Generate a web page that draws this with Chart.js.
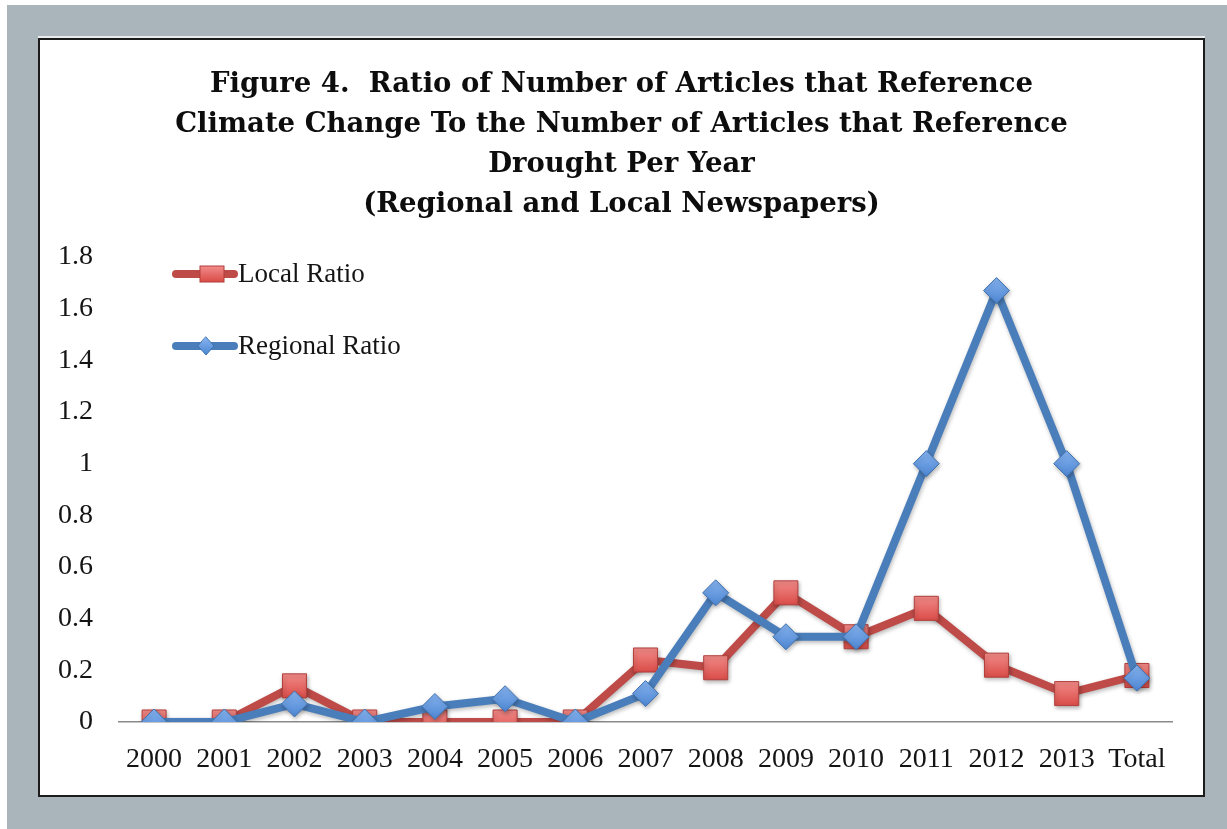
<!DOCTYPE html>
<html>
<head>
<meta charset="utf-8">
<title>Ratio of Climate Change to Drought Articles</title>
<script src="https://cdn.jsdelivr.net/npm/chart.js@4.4.0/dist/chart.umd.min.js"></script>
<style>
  html, body { margin: 0; padding: 0; background: #ffffff; }
  body { width: 1227px; height: 829px; position: relative; overflow: hidden; }
  #panel { position: absolute; left: 7px; top: 5px; right: 0; bottom: 0; background: #a9b5bb; }
  #box {
    position: absolute; left: 38px; top: 38px; width: 1163px; height: 755px;
    background: #ffffff; border: 2px solid #1c1c1c;
    box-shadow: 0 -2px 0 #e8ecee;
  }
  #chart { position: absolute; left: 0; top: 0; }
</style>
</head>
<body>
<div id="panel"></div>
<div id="box"><canvas id="chart" width="1163" height="755"></canvas></div>
<script>
// Years plus the overall total
const categories = ['2000', '2001', '2002', '2003', '2004', '2005', '2006', '2007',
                    '2008', '2009', '2010', '2011', '2012', '2013', 'Total'];

// Climate-change articles divided by drought articles, per year
const localRatio    = [0, 0, 0.14, 0, 0, 0, 0, 0.24, 0.21, 0.5, 0.33, 0.44, 0.22, 0.11, 0.18];
const regionalRatio = [0, 0, 0.07, 0, 0.06, 0.09, 0, 0.11, 0.5, 0.33, 0.33, 1, 1.67, 1, 0.17];

const yTickLabels = ['0', '0.2', '0.4', '0.6', '0.8', '1', '1.2', '1.4', '1.6', '1.8'];

const titleLines = [
  'Figure 4.  Ratio of Number of Articles that Reference',
  'Climate Change To the Number of Articles that Reference',
  'Drought Per Year',
  '(Regional and Local Newspapers)'
];

const SERIF = '"Liberation Serif", "Times New Roman", serif';
const TITLE_FONT = 'bold 27.5px "DejaVu Serif", "Liberation Serif", serif';

// vertical shaded fill for a marker centred on a data value
function markerFill(top, bottom, fallback) {
  return (ctx) => {
    const chart = ctx.chart;
    if (!chart.chartArea || !ctx.parsed) return fallback;
    const y = chart.scales.y.getPixelForValue(ctx.parsed.y);
    const g = chart.ctx.createLinearGradient(0, y - 13, 0, y + 13);
    g.addColorStop(0, top);
    g.addColorStop(1, bottom);
    return g;
  };
}

// four-line heading, centred across the whole chart
const heading = {
  id: 'heading',
  afterDraw(chart) {
    const c = chart.ctx;
    c.save();
    c.font = TITLE_FONT;
    c.fillStyle = '#0d0d0d';
    c.textAlign = 'center';
    c.textBaseline = 'alphabetic';
    titleLines.forEach((line, i) => c.fillText(line, chart.width / 2, 52 + i * 40));
    c.restore();
  }
};

// soft drop shadow under the series, as in office charts
const seriesShadow = {
  id: 'seriesShadow',
  beforeDatasetsDraw(chart) {
    const c = chart.ctx;
    c.save();
    c.shadowColor = 'rgba(0,0,0,0.28)';
    c.shadowBlur = 4;
    c.shadowOffsetX = 1;
    c.shadowOffsetY = 2;
  },
  afterDatasetsDraw(chart) {
    chart.ctx.restore();
  }
};

// legend drawn inside the plot, upper left, one entry per row
const insideLegend = {
  id: 'insideLegend',
  afterDraw(chart) {
    const c = chart.ctx;
    const entries = [
      { ds: chart.data.datasets[1], y: 234, shape: 'square' },
      { ds: chart.data.datasets[0], y: 306, shape: 'diamond' }
    ];
    entries.forEach(e => {
      c.save();
      c.lineCap = 'round';
      c.strokeStyle = e.ds.borderColor;
      c.lineWidth = 8;
      c.beginPath();
      c.moveTo(136, e.y);
      c.lineTo(194, e.y);
      c.stroke();
      c.lineWidth = 1;
      c.strokeStyle = e.ds.pointBorderColor;
      if (e.shape === 'square') {
        const g = c.createLinearGradient(0, e.y - 8, 0, e.y + 8);
        g.addColorStop(0, '#f28d8a');
        g.addColorStop(1, '#d94a46');
        c.fillStyle = g;
        c.fillRect(160, e.y - 8, 24, 16);
        c.strokeRect(160, e.y - 8, 24, 16);
      } else {
        const g = c.createLinearGradient(0, e.y - 9, 0, e.y + 9);
        g.addColorStop(0, '#86b3f0');
        g.addColorStop(1, '#4d86d2');
        c.fillStyle = g;
        c.beginPath();
        c.moveTo(166, e.y - 9);
        c.lineTo(174, e.y);
        c.lineTo(166, e.y + 9);
        c.lineTo(158, e.y);
        c.closePath();
        c.fill();
        c.stroke();
      }
      c.fillStyle = '#141414';
      c.font = '27px ' + SERIF;
      c.textAlign = 'left';
      c.textBaseline = 'middle';
      c.fillText(e.ds.label, 198, e.y + 1);
      c.restore();
    });
  }
};

new Chart(document.getElementById('chart'), {
  type: 'line',
  data: {
    labels: categories,
    datasets: [
      {
        label: 'Regional Ratio',
        data: regionalRatio,
        borderColor: '#4a7ebb',
        borderWidth: 8,
        pointStyle: 'rectRot',
        pointRadius: 13,
        pointHoverRadius: 13,
        pointBorderWidth: 1,
        pointBorderColor: '#3f72b0',
        pointBackgroundColor: markerFill('#86b3f0', '#4d86d2', '#5b93dd'),
        tension: 0,
        order: 0
      },
      {
        label: 'Local Ratio',
        data: localRatio,
        borderColor: '#be4b48',
        borderWidth: 8,
        pointStyle: 'rect',
        pointRadius: 17,
        pointHoverRadius: 17,
        pointBorderWidth: 1,
        pointBorderColor: '#b13f3c',
        pointBackgroundColor: markerFill('#f28d8a', '#d94a46', '#e4625e'),
        tension: 0,
        order: 1
      }
    ]
  },
  options: {
    responsive: false,
    animation: false,
    devicePixelRatio: 1,
    layout: { padding: { left: 8, right: 31, top: 217, bottom: 23 } },
    plugins: {
      legend: { display: false },
      tooltip: { enabled: false },
      title: { display: false }
    },
    scales: {
      x: {
        offset: true,
        grid: { display: true, drawOnChartArea: false, drawTicks: false },
        border: { display: true, color: '#8a8a8a', width: 1.5 },
        ticks: {
          color: '#141414',
          font: { family: SERIF, size: 28 },
          padding: 21,
          maxRotation: 0,
          autoSkip: false
        },
        afterFit(scale) { scale.height = 50; }
      },
      y: {
        min: 0,
        max: 1.8,
        grid: { display: false, drawTicks: false },
        border: { display: false },
        ticks: {
          stepSize: 0.2,
          color: '#141414',
          font: { family: SERIF, size: 28 },
          padding: 26,
          callback: (value, index) => yTickLabels[index]
        },
        afterFit(scale) { scale.width = 71; }
      }
    }
  },
  plugins: [seriesShadow, insideLegend, heading]
});
</script>
</body>
</html>
